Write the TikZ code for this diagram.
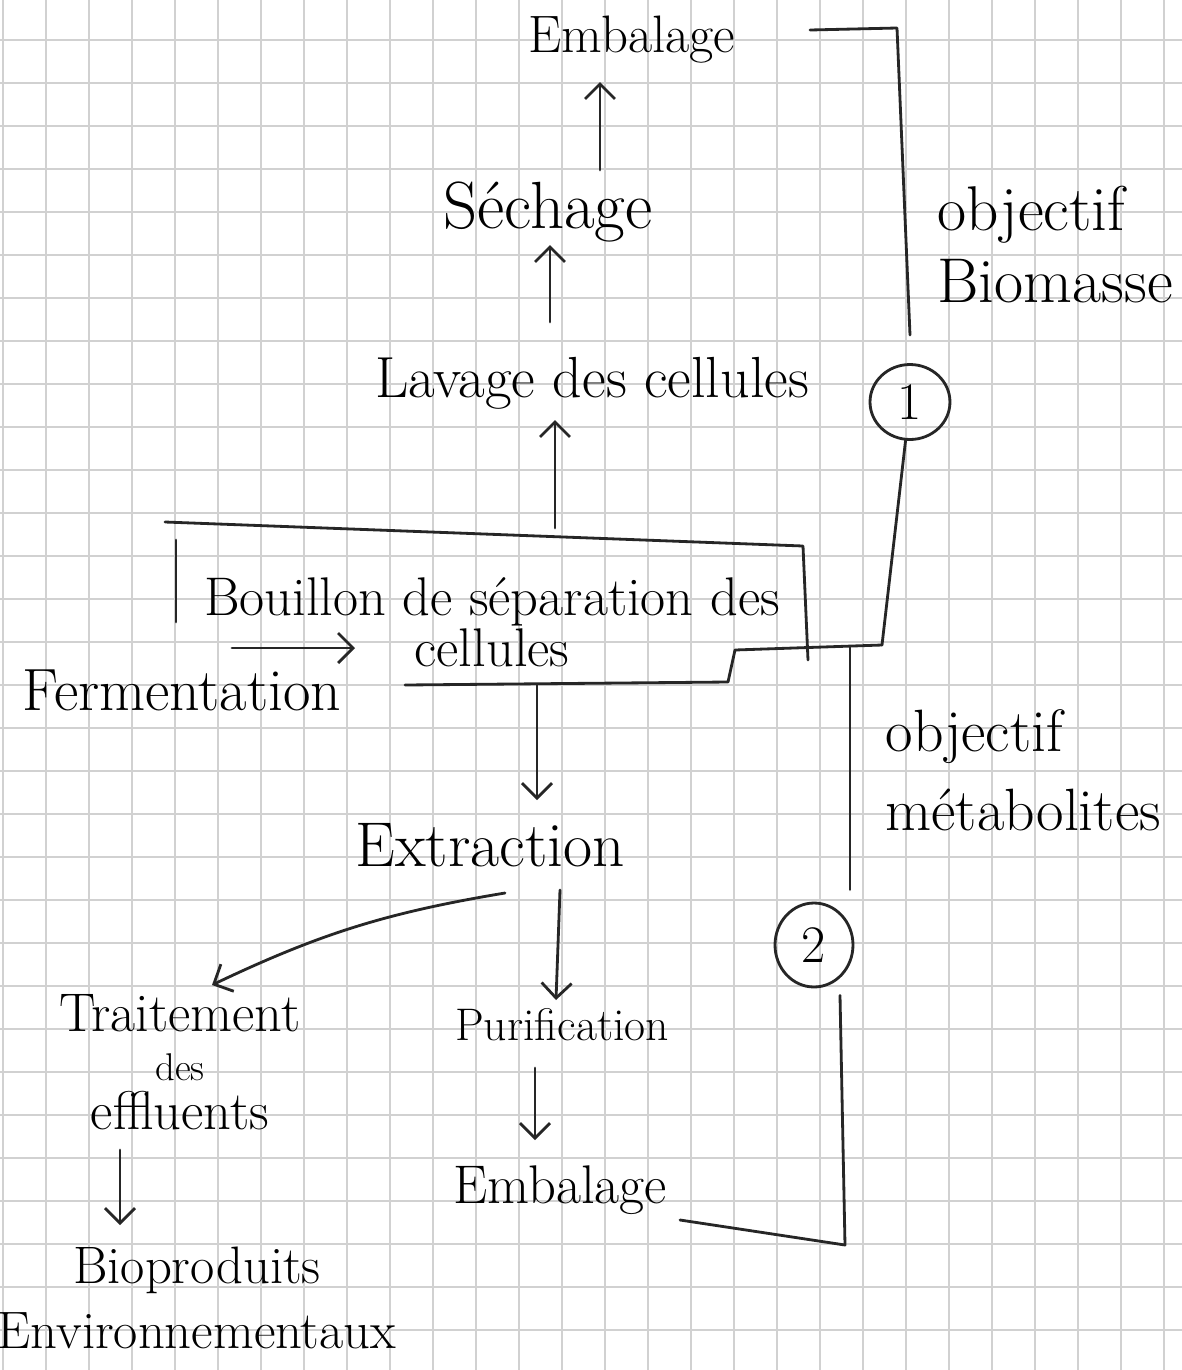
\documentclass[tikz,border=0pt]{standalone}
\usepackage{amsmath,amssymb}
\usepackage{xcolor}
\usepackage{tikz}
\usetikzlibrary{shapes.geometric, arrows.meta, positioning, calc}

\begin{document}
\begin{tikzpicture}[
    x=0.02cm, y=-0.02cm,
    font=\fontsize{33}{30}\selectfont,
    % Define specific node styles
    stage_node/.style={inner sep=3pt, align=center},
    goal_node/.style={inner sep=3pt, align=left, anchor=west},
    num_node/.style={ellipse, draw=black!85, line width=1.6pt, minimum width=1.6cm, minimum height=1.5cm, inner sep=0pt, font=\fontsize{30}{30}\selectfont},
    pen/.style={draw=black!85, line width=1.6pt, line cap=round, line join=round},
    arrow/.style={pen, -{Straight Barb[length=3mm, width=6mm]}},
    gridline/.style={draw=black!18, line width=0.8pt},
]

% Paper and squares
\useasboundingbox (0,0) rectangle (1182,1370);
\fill[white] (0,0) rectangle (1182,1370);
\foreach \gx in {0,...,27}
    \draw[gridline] (43*\gx+3,0) -- (43*\gx+3,1370);
\foreach \gy in {0,...,31}
    \draw[gridline] (0,43*\gy-3) -- (1182,43*\gy-3);

% Nodes Biomasse branch (Bottom to Top)
\node[stage_node, font=\fontsize{30}{30}\selectfont] (emb_top) at (632,40) {Embalage};
\node[stage_node, font=\fontsize{38}{38}\selectfont] (sech) at (548,212) {Séchage};
\node[stage_node] (lav) at (592,383) {Lavage des cellules};
\node[stage_node, font=\fontsize{31}{29}\selectfont] (bouillon) at (492,622) {Bouillon de séparation des\\cellules};
\node[stage_node, font=\fontsize{34}{34}\selectfont] (ferm) at (182,690) {Fermentation};

% Nodes Metabolites branch
\node[stage_node, font=\fontsize{36}{36}\selectfont] (extr) at (490,845) {Extraction};
\node[stage_node, font=\fontsize{31}{28}\selectfont] (trait) at (180,1062) {Traitement\\{\fontsize{22}{22}\selectfont des}\\effluents};
\node[stage_node, font=\fontsize{26}{26}\selectfont] (purif) at (562,1025) {Purification};
\node[stage_node, font=\fontsize{31}{31}\selectfont] (emb_bot) at (560,1190) {Embalage};
\node[stage_node, font=\fontsize{30}{37}\selectfont] (bioprod) at (197,1298) {Bioproduits\\Environnementaux};

% Objectives (Right side)
\node[goal_node, font=\fontsize{36}{41}\selectfont] (goal_bio) at (932,245) {objectif\\Biomasse};
\node[goal_node, font=\fontsize{34}{45}\selectfont] (goal_meta) at (880,770) {objectif\\métabolites};
\node[num_node] (num_one) at (910,402) {1};
\node[num_node, minimum width=1.56cm, minimum height=1.68cm] (num_two) at (814,945) {2};

% Frame of the broth box
\coordinate (boxtop) at (555,528);
\coordinate (boxbot) at (537,685);
\coordinate (ferm_in) at (355,648);
\coordinate (split) at (882,645);
\coordinate (split_two) at (850,647);
\draw[pen] (165,522) -- (803,546) -- (808,660);
\draw[pen] (176,540) -- (176,622);
\draw[pen] (405,685) -- (728,682) -- (735,650) -- (split);

% Brackets
\coordinate (brk_top_a) at (810,30);
\coordinate (brk_top_b) at (897,28);
\coordinate (brk_top_c) at (910,335);
\coordinate (brk_bot_a) at (680,1220);
\coordinate (brk_bot_b) at (845,1245);
\draw[pen] (brk_top_a) -- (brk_top_b) -- (brk_top_c);
\draw[pen] ([shift={(26,7)}]num_two.south) -- (brk_bot_b) -- (brk_bot_a);

% Connections
\draw[arrow] (boxtop) -- ([shift={(-37,37)}]lav.center);
\draw[arrow] ([shift={(-42,-61)}]lav.center) -- ([shift={(2,33)}]sech.center);
\draw[arrow] ([shift={(52,-42)}]sech.center) -- ([shift={(-32,42)}]emb_top.center);
\draw[arrow] ([shift={(50,-42)}]ferm.center) -- (ferm_in);

\draw[arrow] (boxbot) -- ([shift={(47,-45)}]extr.center);
\draw[arrow] ([shift={(15,48)}]extr.center) to[bend right=8] ([shift={(32,-77)}]trait.center);
\draw[arrow] ([shift={(70,45)}]extr.center) -- ([shift={(-6,-25)}]purif.center);
\draw[arrow] ([shift={(-27,43)}]purif.center) -- ([shift={(-25,-50)}]emb_bot.center);
\draw[arrow] ([shift={(-60,88)}]trait.center) -- ([shift={(-77,-73)}]bioprod.center);

\draw[pen] (num_one) -- (split);
\draw[pen, shorten >=0.24cm] (split_two) -- (split_two |- num_two.north);

\end{tikzpicture}
\end{document}
